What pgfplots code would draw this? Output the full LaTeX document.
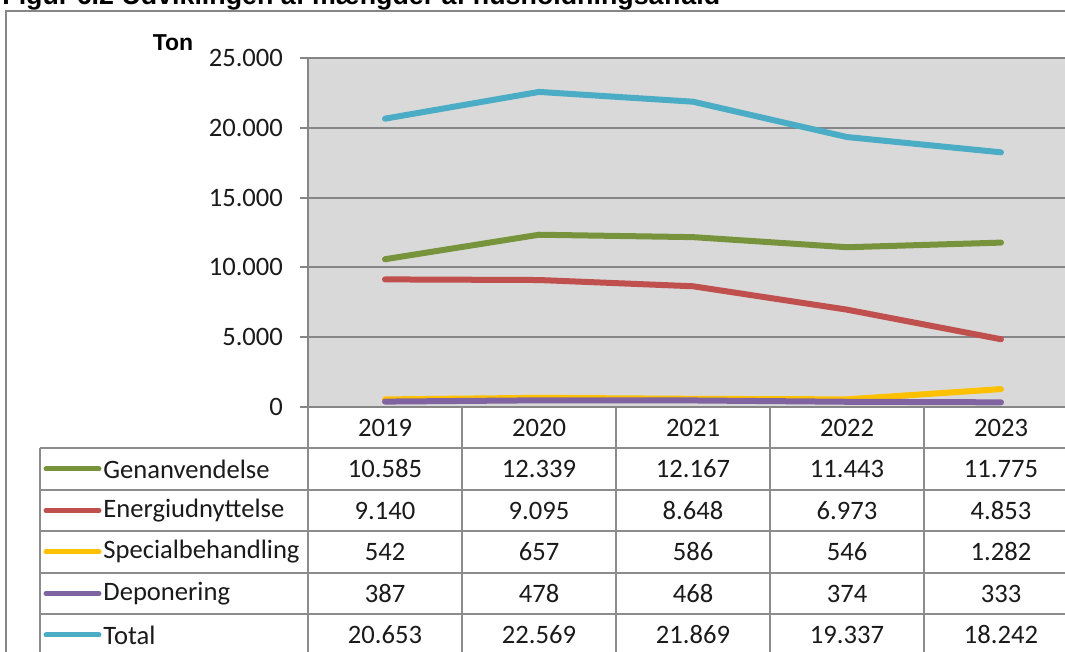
\documentclass[border=0pt]{standalone}
\usepackage{pgfplots}
\pgfplotsset{compat=1.18}
\usepackage{fontspec}
\setmainfont{Carlito}
\newfontfamily\arial{Liberation Sans}
\definecolor{cgreen}{HTML}{77933C}
\definecolor{cred}{HTML}{C0504D}
\definecolor{cyellow}{HTML}{FFC000}
\definecolor{cpurple}{HTML}{8064A2}
\definecolor{ccyan}{HTML}{4BACC6}
\definecolor{bggray}{HTML}{D9D9D9}
\definecolor{gridgray}{HTML}{868686}
\definecolor{tline}{HTML}{8C8C8C}
\definecolor{txt}{HTML}{1A1A1A}
\newcommand\tf{\fontsize{13.3pt}{16pt}\selectfont}
\begin{document}
\begin{tikzpicture}
\path[use as bounding box] (0pt,0pt) rectangle (532.5pt,326pt);
\clip (0pt,0pt) rectangle (532.5pt,326pt);
\begin{scope}[x=0.5pt,y=0.5pt]
% title (cropped)
\node[anchor=base west, inner sep=0pt, text=black, font=\arial\bfseries\fontsize{13.4pt}{16pt}\selectfont] at (2,647) {Figur 6.2 Udviklingen af mængder af husholdningsaffald};
% outer frame
\draw[gridgray, line width=1pt] (6,-20) -- (6,641) -- (1100,641);
\end{scope}
\begin{axis}[
  at={(154pt,122.5pt)}, anchor=south west,
  scale only axis, width=385pt, height=174.5pt,
  xmin=-0.5, xmax=4.5, ymin=0, ymax=25000,
  xtick=\empty,
  scaled y ticks=false,
  ytick={0,5000,10000,15000,20000,25000},
  yticklabels={0,5.000,10.000,15.000,20.000,25.000},
  yticklabel style={font=\tf, text=txt, xshift=-5pt},
  axis x line*=bottom, axis y line*=left,
  axis line style={-, draw=gridgray, line width=1pt},
  tick align=outside, major tick length=4pt,
  tick style={gridgray, line width=1pt},
  ymajorgrids, major grid style={gridgray, line width=1pt},
  axis background/.style={fill=bggray},
  every axis plot/.append style={line width=3pt, line cap=round, line join=round, mark=none},
  clip=false,
]
\addplot[cgreen] coordinates {(0,10585) (1,12339) (2,12167) (3,11443) (4,11775)};
\addplot[cred] coordinates {(0,9140) (1,9095) (2,8648) (3,6973) (4,4853)};
\addplot[cyellow] coordinates {(0,542) (1,657) (2,586) (3,546) (4,1282)};
\addplot[cpurple] coordinates {(0,387) (1,478) (2,468) (3,374) (4,333)};
\addplot[ccyan] coordinates {(0,20653) (1,22569) (2,21869) (3,19337) (4,18242)};
\end{axis}
\begin{scope}[x=0.5pt,y=0.5pt]
% y unit
\node[font=\arial\bfseries\fontsize{11.5pt}{14pt}\selectfont, text=black] at (173,609) {Ton};
% data table lines
\begin{scope}[tline, line width=1pt]
\foreach \y in {204,162,121,79,38} {\draw (40,\y) -- (1100,\y);}
\draw (40,204) -- (40,-20);
\draw (308,245) -- (308,-20);
\foreach \x in {462,616,770,924} {\draw (\x,245) -- (\x,-20);}
\end{scope}
% header years
\foreach \yr [count=\i from 0] in {2019,2020,2021,2022,2023}
  {\node[font=\tf, text=txt] at ({385+154*\i},224) {\yr};}
% legend keys and row labels
\foreach \c/\lab/\y in {cgreen/Genanvendelse/183, cred/Energiudnyttelse/141.5, cyellow/Specialbehandling/100, cpurple/Deponering/58.5, ccyan/Total/17}
{
  \draw[\c, line width=2.5pt, line cap=round] (46,\y) -- (99,\y);
  \node[anchor=west, inner sep=0pt, font=\tf, text=txt] at (103,\y) {\lab};
}
% values
\foreach \y/\a/\b/\c/\d/\e in {
  183/10.585/12.339/12.167/11.443/11.775,
  141.5/9.140/9.095/8.648/6.973/4.853,
  100/542/657/586/546/1.282,
  58.5/387/478/468/374/333,
  17/20.653/22.569/21.869/19.337/18.242}
{
  \node[font=\tf, text=txt] at (385,\y) {\a};
  \node[font=\tf, text=txt] at (539,\y) {\b};
  \node[font=\tf, text=txt] at (693,\y) {\c};
  \node[font=\tf, text=txt] at (847,\y) {\d};
  \node[font=\tf, text=txt] at (1001,\y) {\e};
}
\end{scope}
\end{tikzpicture}
\end{document}
